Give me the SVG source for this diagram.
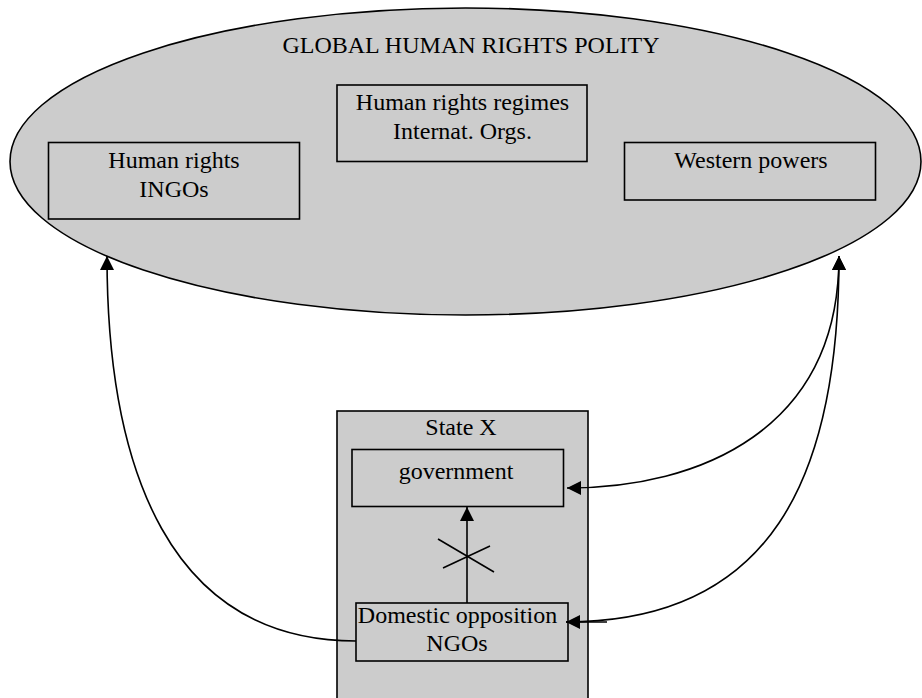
<svg xmlns="http://www.w3.org/2000/svg" width="922" height="698" viewBox="0 0 922 698">
<style>
.shape{fill:#cccccc;stroke:#000;stroke-width:1.6}
.lbl{font-family:"Liberation Serif","Times New Roman",serif;font-size:24px;fill:#000;text-anchor:middle}
.con{fill:none;stroke:#000;stroke-width:1.6}
</style>
<defs>
<marker id="ah" markerUnits="userSpaceOnUse" markerWidth="14" markerHeight="14" viewBox="0 0 12 12" refX="12" refY="6" orient="auto-start-reverse">
<path d="M0,0 L12,6 L0,12 z" fill="#000"/>
</marker>
</defs>
<rect width="922" height="698" fill="#fff"/>
<g id="polity">
<ellipse class="shape" cx="465.5" cy="161.5" rx="455.5" ry="153.5"/>
<text class="lbl" x="471" y="53">GLOBAL HUMAN RIGHTS POLITY</text>
</g>
<g id="ingos">
<rect class="shape" x="48.5" y="142.5" width="251" height="76.5"/>
<text class="lbl" x="174" y="167.5">Human rights</text>
<text class="lbl" x="174" y="196.5">INGOs</text>
</g>
<g id="regimes">
<rect class="shape" x="337" y="85" width="250" height="76.5"/>
<text class="lbl" x="462.5" y="109.5">Human rights regimes</text>
<text class="lbl" x="462.5" y="138.5">Internat. Orgs.</text>
</g>
<g id="western">
<rect class="shape" x="624.5" y="142.5" width="251" height="57.5"/>
<text class="lbl" x="751" y="167.5">Western powers</text>
</g>
<g id="stateX">
<rect class="shape" x="337" y="411" width="251" height="300"/>
<text class="lbl" x="461" y="435">State X</text>
</g>
<g id="government">
<rect class="shape" x="352" y="449.5" width="211.5" height="57"/>
<text class="lbl" x="456" y="479">government</text>
</g>
<g id="opposition">
<rect class="shape" x="356" y="603" width="212" height="58"/>
<text class="lbl" x="457.5" y="623">Domestic opposition</text>
<text class="lbl" x="457" y="651">NGOs</text>
</g>
<g id="connectors">
<path class="con" d="M356,641 C170,641 107,470 107,256" marker-end="url(#ah)"/>
<path class="con" d="M567,488 C700,488 839,430 839,256" marker-start="url(#ah)" marker-end="url(#ah)"/>
<path class="con" d="M566,622 C770,622 839,480 839,256" marker-start="url(#ah)" marker-end="url(#ah)"/>
<line class="con" x1="566" y1="622" x2="607" y2="622"/>
<line class="con" x1="467" y1="603" x2="467" y2="507" marker-end="url(#ah)"/>
<line class="con" x1="438" y1="539" x2="494" y2="572"/>
<line class="con" x1="443" y1="568" x2="490" y2="546"/>
</g>
</svg>
